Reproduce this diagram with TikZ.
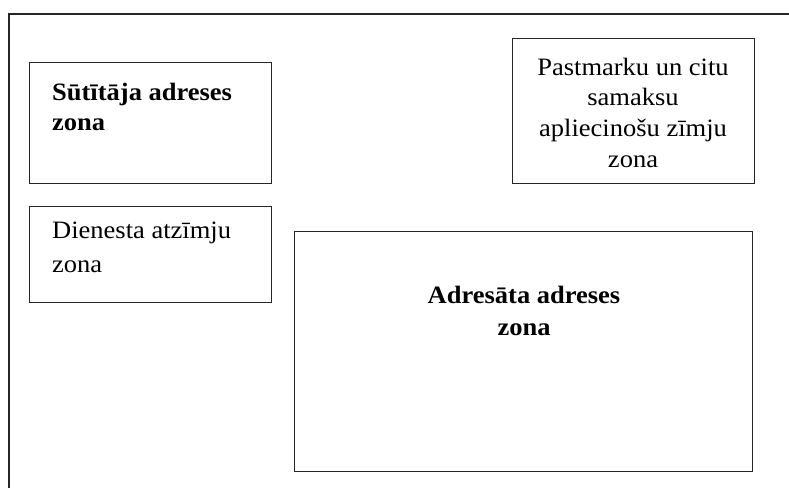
\documentclass[tikz,border=0pt]{standalone}
\usepackage{fontspec}
\setmainfont{Liberation Serif}[FakeStretch=1.06]
\begin{document}
\begin{tikzpicture}[x=1pt,y=-1pt,
  zone/.style={draw=black!85,line width=1.4pt,rectangle,inner sep=0pt,anchor=north west},
  lbl/.style={inner sep=0pt,font=\fontsize{25}{30}\selectfont},
  blbl/.style={lbl,font=\fontsize{25}{30}\selectfont\bfseries}]
\useasboundingbox (0,0) rectangle (789,487);
% outer frame (top and left edges only)
\coordinate (fbl) at (9,490);
\coordinate (ftl) at (9,14);
\coordinate (ftr) at (792,14);
\draw[line width=1.4pt,draw=black!85] (fbl) -- (ftl) -- (ftr);
% boxes
\node[zone,minimum width=242pt,minimum height=121pt] (sender) at (29,62) {};
\node[zone,minimum width=242pt,minimum height=145pt] (stamp) at (512,38) {};
\node[zone,minimum width=242pt,minimum height=96pt] (service) at (29,206) {};
\node[zone,minimum width=458pt,minimum height=240pt] (addressee) at (294,231) {};
% sender text
\node[blbl,anchor=base west] (s1) at (52,100) {Sūtītāja adreses};
\node[blbl,anchor=base west] (s2) at (52,130) {zona};
% stamp text
\node[lbl,anchor=base] (p1) at (633,75) {Pastmarku un citu};
\node[lbl,anchor=base] (p2) at (633,105) {samaksu};
\node[lbl,anchor=base] (p3) at (633,136) {apliecinošu zīmju};
\node[lbl,anchor=base] (p4) at (633,167) {zona};
% service text
\node[lbl,anchor=base west] (d1) at (52,238) {Dienesta atzīmju};
\node[lbl,anchor=base west] (d2) at (52,272) {zona};
% addressee text
\node[blbl,anchor=base] (a1) at (524,303) {Adresāta adreses};
\node[blbl,anchor=base] (a2) at (524,335) {zona};
\end{tikzpicture}
\end{document}
